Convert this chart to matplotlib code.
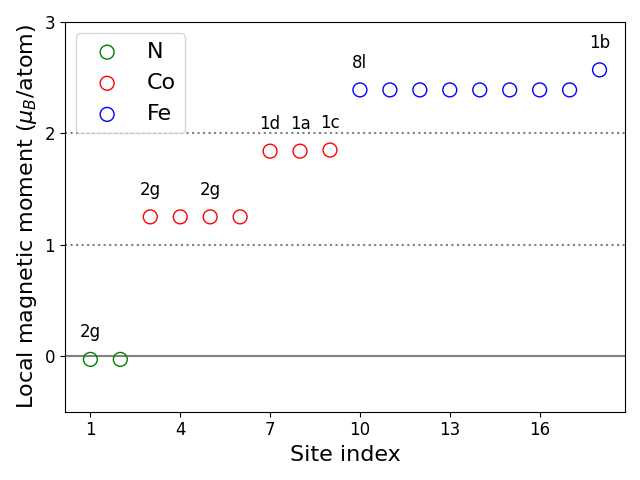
import matplotlib.pyplot as plt
import numpy as np

# site index and local moments (mu_B/atom)
n_idx = [1, 2]
n_mom = [-0.03, -0.03]
co_idx = [3, 4, 5, 6, 7, 8, 9]
co_mom = [1.25, 1.25, 1.25, 1.25, 1.84, 1.84, 1.85]
fe_idx = [10, 11, 12, 13, 14, 15, 16, 17, 18]
fe_mom = [2.39, 2.39, 2.39, 2.39, 2.39, 2.39, 2.39, 2.39, 2.57]

# wyckoff labels: (site index, label)
lab_idx = [1, 3, 5, 7, 8, 9, 10, 18]
lab_txt = ['2g', '2g', '2g', '1d', '1a', '1c', '8l', '1b']

all_idx = np.array(n_idx + co_idx + fe_idx)
all_mom = np.array(n_mom + co_mom + fe_mom)

fig, ax = plt.subplots(figsize=(6.4, 4.8), dpi=100)

ax.axhline(0, color='gray', lw=1.5, zorder=0)
ax.axhline(1, color='gray', ls=':', lw=1.5, zorder=0)
ax.axhline(2, color='gray', ls=':', lw=1.5, zorder=0)

ax.scatter(n_idx, n_mom, s=100, facecolors='none', edgecolors='g', label='N')
ax.scatter(co_idx, co_mom, s=100, facecolors='none', edgecolors='r', label='Co')
ax.scatter(fe_idx, fe_mom, s=100, facecolors='none', edgecolors='b', label='Fe')

for i, t in zip(lab_idx, lab_txt):
    y = all_mom[all_idx == i][0]
    ax.text(i, y + 0.2, t, ha='center', fontsize=12)

ax.set_ylim(-0.5, 3)
ax.set_yticks([0, 1, 2, 3])
ax.set_xticks(np.arange(1, 18, 3))
ax.tick_params(labelsize=12)
ax.set_xlabel('Site index', fontsize=16)
ax.set_ylabel(r'Local magnetic moment ($\mu_B$/atom)', fontsize=16)
ax.legend(fontsize=16, loc='upper left')

fig.tight_layout()
fig.savefig('out.png')
